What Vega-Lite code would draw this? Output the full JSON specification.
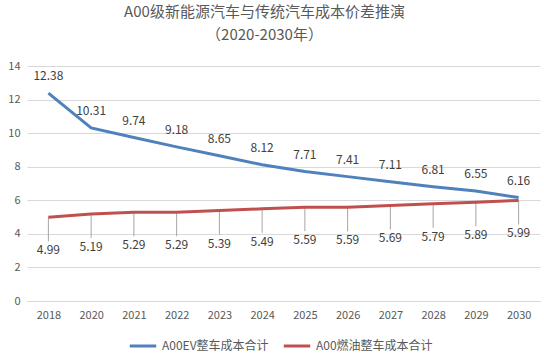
{
  "$schema": "https://vega.github.io/schema/vega-lite/v6.json",
  "width": 513,
  "height": 235,
  "autosize": {"type": "none"},
  "padding": {"left": 27, "top": 66, "right": 4, "bottom": 61},
  "background": "white",
  "config": {
    "font": "Noto Sans CJK SC",
    "view": {"stroke": null}
  },
  "title": {
    "text": "A00级新能源汽车与传统汽车成本价差推演",
    "subtitle": "（2020-2030年）",
    "anchor": "middle",
    "dx": -19,
    "offset": 17,
    "fontSize": 15,
    "fontWeight": "normal",
    "color": "#595959",
    "subtitleFontSize": 15,
    "subtitleColor": "#595959",
    "subtitlePadding": 8,
    "font": "Noto Sans CJK SC",
    "subtitleFont": "Noto Sans CJK SC"
  },
  "data": {
    "values": [
      {"year": "2018", "series": "A00EV整车成本合计", "value": 12.38},
      {"year": "2020", "series": "A00EV整车成本合计", "value": 10.31},
      {"year": "2021", "series": "A00EV整车成本合计", "value": 9.74},
      {"year": "2022", "series": "A00EV整车成本合计", "value": 9.18},
      {"year": "2023", "series": "A00EV整车成本合计", "value": 8.65},
      {"year": "2024", "series": "A00EV整车成本合计", "value": 8.12},
      {"year": "2025", "series": "A00EV整车成本合计", "value": 7.71},
      {"year": "2026", "series": "A00EV整车成本合计", "value": 7.41},
      {"year": "2027", "series": "A00EV整车成本合计", "value": 7.11},
      {"year": "2028", "series": "A00EV整车成本合计", "value": 6.81},
      {"year": "2029", "series": "A00EV整车成本合计", "value": 6.55},
      {"year": "2030", "series": "A00EV整车成本合计", "value": 6.16},
      {"year": "2018", "series": "A00燃油整车成本合计", "value": 4.99},
      {"year": "2020", "series": "A00燃油整车成本合计", "value": 5.19},
      {"year": "2021", "series": "A00燃油整车成本合计", "value": 5.29},
      {"year": "2022", "series": "A00燃油整车成本合计", "value": 5.29},
      {"year": "2023", "series": "A00燃油整车成本合计", "value": 5.39},
      {"year": "2024", "series": "A00燃油整车成本合计", "value": 5.49},
      {"year": "2025", "series": "A00燃油整车成本合计", "value": 5.59},
      {"year": "2026", "series": "A00燃油整车成本合计", "value": 5.59},
      {"year": "2027", "series": "A00燃油整车成本合计", "value": 5.69},
      {"year": "2028", "series": "A00燃油整车成本合计", "value": 5.79},
      {"year": "2029", "series": "A00燃油整车成本合计", "value": 5.89},
      {"year": "2030", "series": "A00燃油整车成本合计", "value": 5.99}
    ]
  },
  "encoding": {
    "x": {
      "field": "year",
      "type": "ordinal",
      "scale": {"type": "point", "padding": 0.5},
      "axis": {
        "title": null,
        "labelAngle": 0,
        "ticks": false,
        "domain": true,
        "domainColor": "#d9d9d9",
        "labelColor": "#595959",
        "labelFontSize": 11,
        "labelPadding": 8,
        "labelFont": "Noto Sans CJK SC"
      }
    },
    "y": {
      "field": "value",
      "type": "quantitative",
      "scale": {"domain": [0, 14], "nice": false},
      "axis": {
        "title": null,
        "values": [0, 2, 4, 6, 8, 10, 12, 14],
        "domain": false,
        "ticks": false,
        "gridColor": "#d9d9d9",
        "labelColor": "#595959",
        "labelFontSize": 11,
        "labelPadding": 7,
        "labelFont": "Noto Sans CJK SC"
      }
    }
  },
  "layer": [
    {
      "mark": {"type": "rule", "color": "#a6a6a6", "strokeWidth": 1, "y2Offset": 24},
      "transform": [{"filter": "datum.series === 'A00燃油整车成本合计'"}],
      "encoding": {
        "y2": {"field": "value"}
      }
    },
    {
      "mark": {"type": "line", "strokeWidth": 3},
      "encoding": {
        "color": {
          "field": "series",
          "type": "nominal",
          "scale": {
            "domain": ["A00EV整车成本合计", "A00燃油整车成本合计"],
            "range": ["#4F81BD", "#C0504D"]
          },
          "legend": {
            "title": null,
            "orient": "none",
            "direction": "horizontal",
            "legendX": 101,
            "legendY": 265,
            "symbolType": "stroke",
            "symbolStrokeWidth": 3,
            "symbolSize": 700,
            "labelFontSize": 12,
            "labelColor": "#595959",
            "labelFont": "Noto Sans CJK SC",
            "columnPadding": 8,
            "symbolOffset": 0
          }
        }
      }
    },
    {
      "mark": {"type": "text", "dy": -17, "fontSize": 12, "color": "#404040", "font": "Noto Sans CJK SC"},
      "transform": [{"filter": "datum.series === 'A00EV整车成本合计'"}],
      "encoding": {
        "text": {"field": "value", "type": "quantitative", "format": ".2f"}
      }
    },
    {
      "mark": {"type": "text", "dy": 33, "fontSize": 12, "color": "#404040", "font": "Noto Sans CJK SC"},
      "transform": [{"filter": "datum.series === 'A00燃油整车成本合计'"}],
      "encoding": {
        "text": {"field": "value", "type": "quantitative", "format": ".2f"}
      }
    }
  ]
}
